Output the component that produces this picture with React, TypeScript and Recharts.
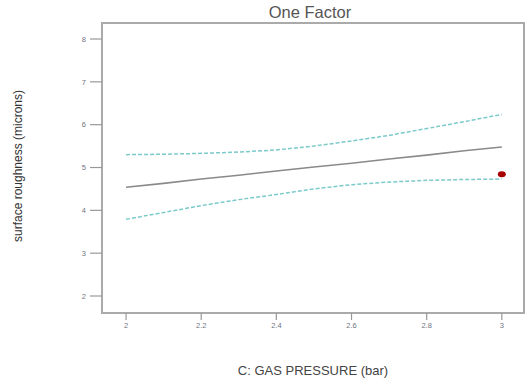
import React from "react";
import {
  ComposedChart,
  Line,
  Scatter,
  XAxis,
  YAxis,
  ReferenceArea,
} from "recharts";

const pressure = [2, 2.1, 2.2, 2.3, 2.4, 2.5, 2.6, 2.7, 2.8, 2.9, 3];
const predicted = [4.54, 4.63, 4.73, 4.82, 4.92, 5.01, 5.1, 5.2, 5.29, 5.39, 5.48];
const upperBand = [5.3, 5.31, 5.33, 5.36, 5.41, 5.5, 5.62, 5.75, 5.91, 6.07, 6.24];
const lowerBand = [3.79, 3.95, 4.11, 4.25, 4.37, 4.5, 4.6, 4.66, 4.7, 4.72, 4.73];
const observedX = [3];
const observedY = [4.84];
const xTicks = [2, 2.2, 2.4, 2.6, 2.8, 3];
const yTicks = [2, 3, 4, 5, 6, 7, 8];

const data = pressure.map((x, i) => ({
  x,
  mean: predicted[i],
  upper: upperBand[i],
  lower: lowerBand[i],
}));
const obsData = observedX.map((x, i) => ({ x, obs: observedY[i] }));

const FONT = '"Liberation Sans", Arial, sans-serif';
const X_DOMAIN: [number, number] = [1.936, 3.059];
const Y_DOMAIN: [number, number] = [1.603, 8.374];

const Ellipse = (props: any) => {
  const { cx, cy } = props;
  return <ellipse cx={cx} cy={cy} rx={4} ry={3} fill="#a80000" />;
};

export default function App() {
  return (
    <div style={{ position: "absolute", left: 0, top: 0, width: 528, height: 380, background: "#fff", fontFamily: FONT }}>
      <div
        style={{
          position: "absolute",
          left: 210,
          width: 200,
          top: 3,
          textAlign: "center",
          fontSize: 16.5,
          color: "#555",
          lineHeight: "19px",
        }}
      >
        One Factor
      </div>
      <ComposedChart
        width={528}
        height={380}
        data={data}
        margin={{ top: 23, right: 4, left: 0, bottom: 0 }}
      >
        <XAxis
          type="number"
          dataKey="x"
          domain={X_DOMAIN}
          ticks={xTicks}
          allowDataOverflow
          height={67}
          axisLine={false}
          tickSize={7}
          tickMargin={3}
          tickLine={{ stroke: "#999", strokeWidth: 1.2 }}
          tick={{ fontSize: 7.5, fill: "#6f7580", fontFamily: FONT }}
          tickFormatter={(v: number) => String(v)}
          label={{
            value: "C: GAS PRESSURE (bar)",
            position: "insideBottom",
            offset: 5,
            style: { fontSize: 13, fill: "#444", fontFamily: FONT },
          }}
        />
        <YAxis
          type="number"
          domain={Y_DOMAIN}
          ticks={yTicks}
          allowDataOverflow
          width={102}
          axisLine={false}
          tickSize={12}
          tickMargin={4}
          tickLine={{ stroke: "#999", strokeWidth: 1.2 }}
          tick={{ fontSize: 7.5, fill: "#6f7580", fontFamily: FONT }}
          label={{
            value: "surface roughness (microns)",
            content: () => (
              <text
                x={18}
                y={166}
                transform="rotate(-90 18 166)"
                textAnchor="middle"
                dominantBaseline="central"
                fontSize={12}
                fill="#333"
                fontFamily={FONT}
              >
                surface roughness (microns)
              </text>
            ),
          }}
        />
        <ReferenceArea
          x1={X_DOMAIN[0]}
          x2={X_DOMAIN[1]}
          y1={Y_DOMAIN[0]}
          y2={Y_DOMAIN[1]}
          fill="none"
          fillOpacity={0}
          stroke="#aaa"
          strokeWidth={2}
          ifOverflow="extendDomain"
        />
        <Line
          type="linear"
          dataKey="upper"
          stroke="#7ccaca"
          strokeWidth={1.5}
          strokeDasharray="4 2"
          dot={false}
          isAnimationActive={false}
        />
        <Line
          type="linear"
          dataKey="lower"
          stroke="#7ccaca"
          strokeWidth={1.5}
          strokeDasharray="4 2"
          dot={false}
          isAnimationActive={false}
        />
        <Line
          type="linear"
          dataKey="mean"
          stroke="#8a8a8a"
          strokeWidth={1.6}
          dot={false}
          isAnimationActive={false}
        />
        <Scatter data={obsData} dataKey="obs" shape={<Ellipse />} isAnimationActive={false} />
      </ComposedChart>
    </div>
  );
}
